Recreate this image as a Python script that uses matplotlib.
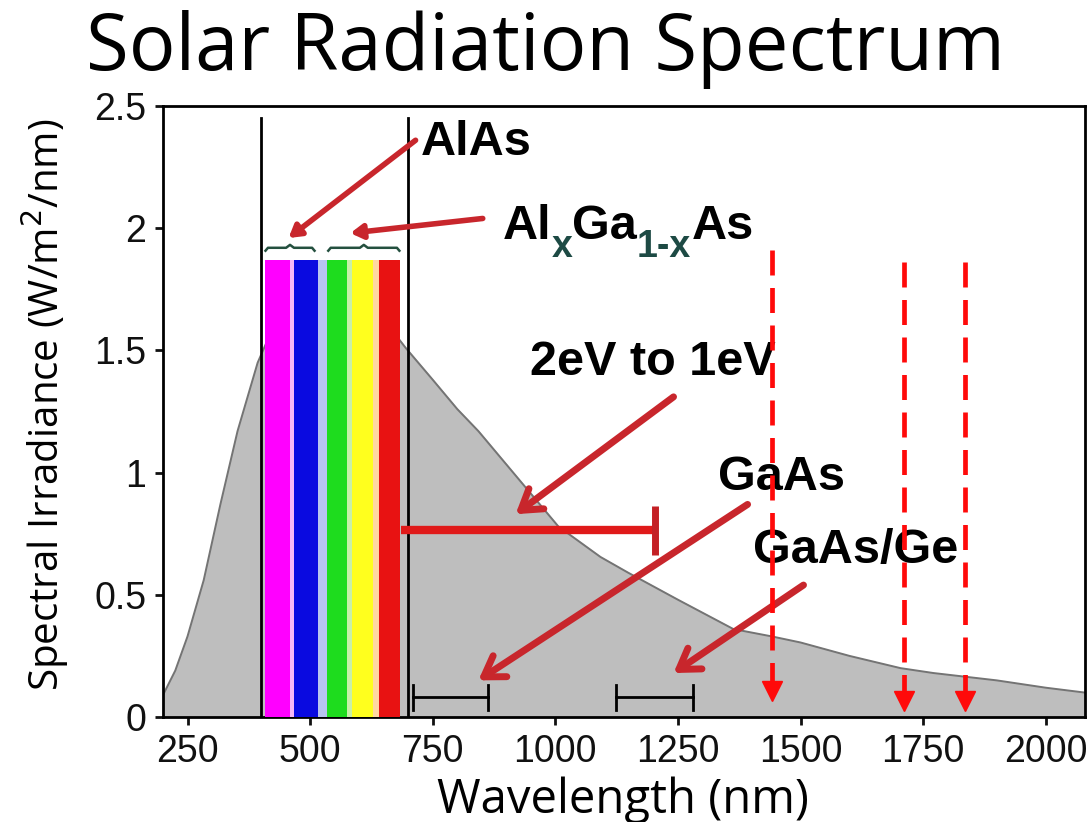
import matplotlib
matplotlib.use("Agg")
import matplotlib.pyplot as plt

plt.rcParams['font.family'] = ['Liberation Sans', 'DejaVu Sans']
plt.rcParams['lines.scale_dashes'] = False

# solar spectrum
wavelength = [200, 225, 250, 283, 317, 352, 393, 430, 480, 521, 582, 637, 695,
              750, 800, 843, 935, 1006, 1092, 1149, 1250, 1363, 1441, 1500,
              1600, 1704, 1771, 1900, 2000, 2080]
irradiance = [0.09, 0.19, 0.33, 0.56, 0.87, 1.17, 1.45, 1.62, 1.74, 1.77, 1.75, 1.66, 1.51,
              1.38, 1.26, 1.17, 0.95, 0.78, 0.655, 0.59, 0.48, 0.36, 0.33, 0.305,
              0.25, 0.20, 0.18, 0.15, 0.12, 0.10]

# coloured bars (visible band)
bar_left = [409, 468, 535, 586, 641]
bar_right = [458, 517, 576, 629, 684]
bar_height = 1.87
bar_colors = ['#ff00ff', '#0a0ae0', '#1edc1e', '#ffff1e', '#e81212']
gap_colors = ['#f7b8f7', '#b8c4f0', '#c8f0a8', '#ffd8a0']

brace_groups = [(409, 509), (537, 682)]
brace_y = 1.92

visible_lines = [400, 700]
visible_top = 2.45

# 2eV .. 1eV range
ev_range = (686, 1204)
ev_y = 0.765

# black range bars
black_ranges = [(709, 862), (1123, 1280)]
black_y = 0.08

# dashed down arrows
dash_x = [1441, 1710, 1836]
dash_top = [1.91, 1.86, 1.86]
dash_tip = [0.106, 0.065, 0.065]

# labels: text, x, y
labels = [("AlAs", 725, 2.35), ("2eV to 1eV", 949, 1.45),
          ("GaAs", 1331, 0.98), ("GaAs/Ge", 1404, 0.68)]
algaas_pos = (893, 1.955)

# red arrows: (tail, head)
arrows_big = [((1241, 1.31), (919, 0.83)),
              ((1392, 0.87), (843, 0.15)),
              ((1506, 0.54), (1241, 0.18))]
arrows_small = [((715, 2.36), (456, 1.96)),
                ((852, 2.04), (582, 1.98))]

arrow_red = '#c8262c'
label_size = 35

fig = plt.figure(figsize=(10.91, 8.22), dpi=100)
ax = fig.add_axes([0.1494, 0.1277, 0.8451, 0.7433])

ax.fill_between(wavelength, irradiance, 0, color='#bebebe', zorder=1)
ax.plot(wavelength, irradiance, color='#747474', lw=1.4, zorder=2)

for xv in visible_lines:
    ax.plot([xv, xv], [0, visible_top], color='black', lw=2, zorder=3)

# pale tints in the gaps between the coloured bars
gap_left = bar_right[:-1]
gap_width = [l - r for r, l in zip(bar_right[:-1], bar_left[1:])]
ax.bar(gap_left, bar_height, width=gap_width, align='edge', color=gap_colors, zorder=4)
ax.bar(bar_left, bar_height, width=[r - l for l, r in zip(bar_left, bar_right)],
       align='edge', color=bar_colors, zorder=4)

# curly braces
for x0, x1 in brace_groups:
    xc = (x0 + x1) / 2
    bx = [x0, x0 + 5, xc - 8, xc, xc + 8, x1 - 5, x1]
    by = [brace_y - 0.012, brace_y, brace_y, brace_y + 0.012, brace_y, brace_y, brace_y - 0.012]
    ax.plot(bx, by, color='#24503f', lw=1.8, zorder=5)

# 2eV to 1eV red range
ax.plot(ev_range, [ev_y, ev_y], color='#e01a1a', lw=6, zorder=5, solid_capstyle='butt')
ax.plot([ev_range[1], ev_range[1]], [ev_y - 0.1, ev_y + 0.1], color='#c42025', lw=5,
        zorder=5, solid_capstyle='butt')

# black ranges
for x0, x1 in black_ranges:
    ax.plot([x0, x1], [black_y, black_y], color='black', lw=2, zorder=5)
    for xv in (x0, x1):
        ax.plot([xv, xv], [black_y - 0.05, black_y + 0.05], color='black', lw=2, zorder=5)

# text labels
for txt, x, y in labels:
    ax.text(x, y, txt, fontsize=label_size, fontweight='bold', va='center', ha='left', zorder=6)

# Al_x Ga_1-x As, subscripts in dark teal
pieces = [("Al", 'black', 0, label_size), ("x", '#1d4a44', -11, 27),
          ("Ga", 'black', 0, label_size), ("1-x", '#1d4a44', -11, 27),
          ("As", 'black', 0, label_size)]
base = ax.text(algaas_pos[0], algaas_pos[1], pieces[0][0], fontsize=pieces[0][3],
               fontweight='bold', color=pieces[0][1], va='baseline', ha='left', zorder=6)
prev = base
for txt, col, dy, fs in pieces[1:]:
    prev = ax.annotate(txt, xy=(1, 0), xycoords=(prev, base), xytext=(0, dy),
                       textcoords='offset points', fontsize=fs, fontweight='bold',
                       color=col, va='bottom', ha='left', zorder=6)

# red arrows
for tail, head in arrows_big:
    ax.annotate('', xy=head, xytext=tail,
                arrowprops=dict(arrowstyle='->,head_length=0.7,head_width=0.45',
                                color=arrow_red, lw=5, mutation_scale=20,
                                shrinkA=0, shrinkB=0), zorder=7)
for tail, head in arrows_small:
    ax.annotate('', xy=head, xytext=tail,
                arrowprops=dict(arrowstyle='-|>,head_length=0.5,head_width=0.3',
                                color=arrow_red, lw=4, mutation_scale=14,
                                shrinkA=0, shrinkB=0), zorder=7)

# dashed red arrows
for xv, top, tip in zip(dash_x, dash_top, dash_tip):
    ax.plot([xv, xv], [top, tip + 0.04], color='#ff0a0a', lw=3.4, dashes=(18, 9),
            zorder=8)
    ax.plot([xv], [tip], marker='v', color='#ff0a0a', markersize=14, zorder=8)

ax.set_xlim(200, 2080)
ax.set_ylim(0, 2.5)
ax.set_xticks([250, 500, 750, 1000, 1250, 1500, 1750, 2000])
ax.set_yticks([0, 0.5, 1, 1.5, 2, 2.5])
ax.set_yticklabels(['0', '0.5', '1', '1.5', '2', '2.5'])
ax.tick_params(direction='out', length=6, width=2, labelsize=27, colors='#111111', pad=6)
for s in ax.spines.values():
    s.set_linewidth(2)

fig.text(545 / 1091, 1 - 70 / 822, "Solar Radiation Spectrum", family='Open Sans',
         fontsize=56, ha='center', va='baseline')
fig.text(45 / 1091, 1 - 405 / 822, "Spectral Irradiance (W/m$^2$/nm)", family='Open Sans',
         fontsize=29, rotation=90, ha='center', va='center')
fig.text(623 / 1091, 1 - 813 / 822, "Wavelength (nm)", family='Open Sans',
         fontsize=34, ha='center', va='baseline')

fig.savefig('out.png', dpi=100)
